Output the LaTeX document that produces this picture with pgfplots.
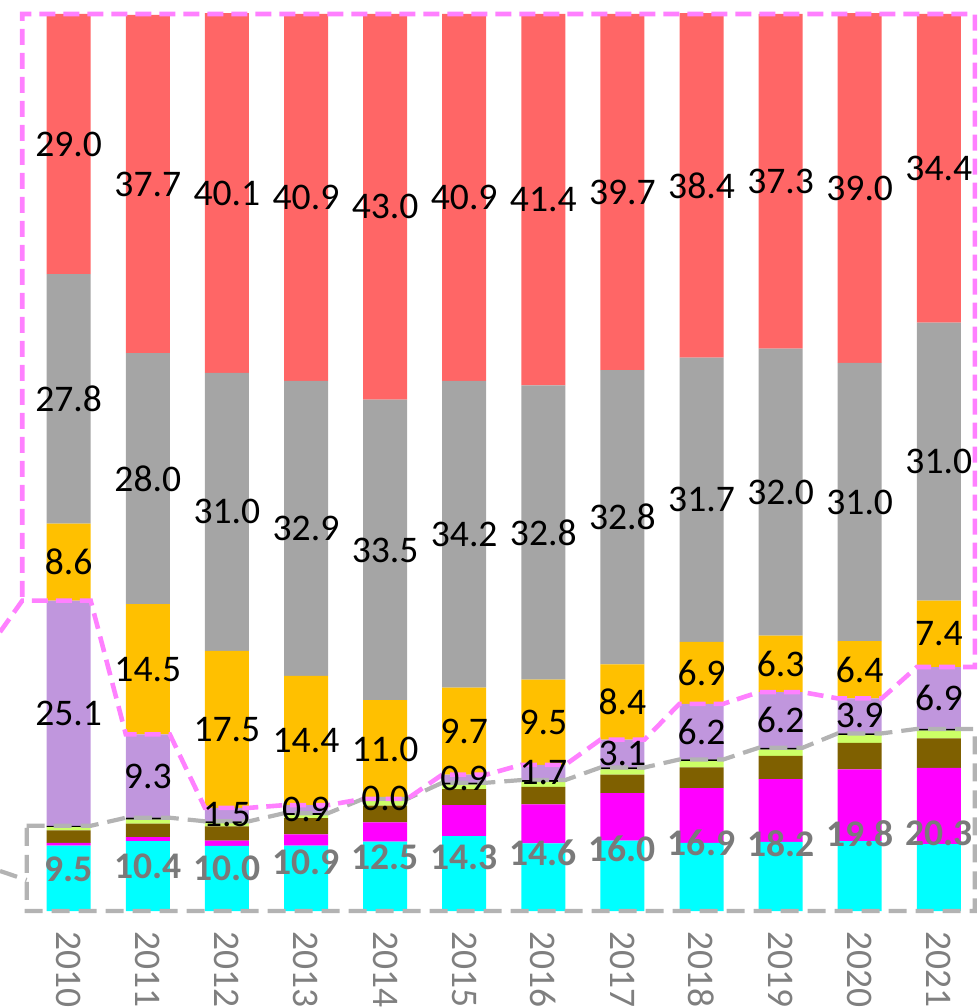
\documentclass[border=0pt]{standalone}
\usepackage{pgfplots}
\pgfplotsset{compat=1.18}
\usepackage{pgfplotstable}
\usepackage{fontspec}
\setmainfont{Carlito}
\definecolor{cRed}{HTML}{FF6666}
\definecolor{cGray}{HTML}{A5A5A5}
\definecolor{cOra}{HTML}{FFC000}
\definecolor{cPur}{HTML}{C096DD}
\definecolor{cGreen}{HTML}{CCFF66}
\definecolor{cBrown}{HTML}{7F6000}
\definecolor{cMag}{HTML}{FF00FF}
\definecolor{cCyan}{HTML}{00FFFF}
\definecolor{cPink}{HTML}{FF80FF}
\definecolor{cBox}{HTML}{B3B3B3}
\definecolor{cLab}{HTML}{7A7A7A}
\definecolor{cTick}{HTML}{7F7F7F}
\newcommand{\labfont}{\fontsize{18.8}{21}\selectfont}

\pgfplotstableread{
x cyan mag brown green black pur ora gra red tot gy
0 7.3 0.3 1.4 0.35 0.15 25.1 8.6 27.8 29.0 9.5 4.64
1 7.8 0.45 1.5 0.45 0.2 9.3 14.5 28.0 37.7 10.4 5.0
2 7.25 0.6 1.6 0.35 0.2 1.5 17.5 31.0 40.1 10.0 4.8
3 7.3 1.25 1.8 0.35 0.2 0.9 14.4 32.9 40.9 10.9 5.4
4 7.74 2.15 1.86 0.55 0.2 0.0 11.0 33.5 43.0 12.5 6.0
5 8.35 3.45 1.8 0.5 0.2 0.9 9.7 34.2 40.9 14.3 6.0
6 7.55 4.35 1.95 0.55 0.2 1.7 9.5 32.8 41.4 14.6 6.5
7 7.85 5.3 2.05 0.6 0.2 3.1 8.4 32.8 39.7 16.0 6.9
8 7.6 6.1 2.3 0.7 0.2 6.2 6.9 31.7 38.4 16.9 7.65
9 7.7 7.0 2.6 0.7 0.2 6.2 6.3 32.0 37.3 18.2 7.55
10 7.8 8.0 2.95 0.85 0.2 3.9 6.4 31.0 39.0 19.8 8.65
11 7.45 8.5 3.3 0.85 0.2 6.9 7.4 31.0 34.4 20.3 8.7
}\datatable

\begin{document}
\begin{tikzpicture}
\begin{axis}[
  x=39.55pt, y=4.485pt,
  xmin=-0.8685, xmax=11.495, ymin=0, ymax=100,
  ybar stacked, bar width=22pt,
  axis line style={draw=none},
  ytick=\empty,
  xtick={0,1,2,3,4,5,6,7,8,9,10,11},
  xticklabels={2010,2011,2012,2013,2014,2015,2016,2017,2018,2019,2020,2021},
  major tick length=0pt,
  xticklabel shift=10pt,
  xticklabel style={rotate=-90, anchor=west, text=cTick, font=\labfont, inner sep=0pt},
  clip=false,
]
\addplot[fill=cCyan, draw=none] table[x=x, y=cyan] {\datatable};
\addplot[fill=cMag, draw=none] table[x=x, y=mag] {\datatable};
\addplot[fill=cBrown, draw=none] table[x=x, y=brown] {\datatable};
\addplot[fill=cGreen, draw=none] table[x=x, y=green] {\datatable};
\addplot[fill=black, draw=none] table[x=x, y=black] {\datatable};
\addplot[fill=cPur, draw=none] table[x=x, y=pur] {\datatable};
\addplot[fill=cOra, draw=none] table[x=x, y=ora] {\datatable};
\addplot[fill=cGray, draw=none] table[x=x, y=gra] {\datatable};
\addplot[fill=cRed, draw=none] table[x=x, y=red] {\datatable};
\end{axis}

\begin{axis}[
  x=39.55pt, y=4.485pt,
  xmin=-0.8685, xmax=11.495, ymin=0, ymax=100,
  hide axis, clip=false,
  nodes near coords align={center},
]
% grey dashed group outline
\addplot[cBox, line width=2.1pt, dash pattern=on 9pt off 4.5pt, mark=none] coordinates {
 (-0.8685,4.46) (-0.531,3.46)};
\addplot[cBox, line width=2.1pt, dash pattern=on 9pt off 4.5pt, mark=none] coordinates {
 (-0.531,9.5) (0.278,9.5) (0.722,10.4) (1.278,10.4) (1.722,10.0) (2.278,10.0)
 (2.722,10.9) (3.278,10.9) (3.722,12.5) (4.278,12.5) (4.722,14.3) (5.278,14.3)
 (5.722,14.6) (6.278,14.6) (6.722,16.0) (7.278,16.0) (7.722,16.9) (8.278,16.9)
 (8.722,18.2) (9.278,18.2) (9.722,19.8) (10.278,19.8) (10.722,20.3) (11.455,20.3)
 (11.455,0) (-0.531,0) (-0.531,9.5)};
% pink dashed group outline
\addplot[cPink, line width=2.3pt, dash pattern=on 8pt off 4pt, mark=none] coordinates {
 (-0.8685,31.1) (-0.587,34.6) (0.278,34.6) (0.722,19.7) (1.278,19.7) (1.722,11.5) (2.278,11.5)
 (2.722,11.8) (3.278,11.8) (3.722,12.5) (4.278,12.5) (4.722,15.2) (5.278,15.2)
 (5.722,16.3) (6.278,16.3) (6.722,19.1) (7.278,19.1) (7.722,23.1) (8.278,23.1)
 (8.722,24.4) (9.278,24.4) (9.722,23.7) (10.278,23.7) (10.722,27.2) (11.455,27.2)
 (11.455,100) (-0.587,100) (-0.587,34.6)};
% labels
\addplot[draw=none, mark=none, nodes near coords, point meta=explicit symbolic,
  every node near coord/.append style={font=\labfont, text=black, anchor=center}]
  table[x=x, y expr=\thisrow{tot}+0.5*\thisrow{pur}, meta=pur] {\datatable};
\addplot[draw=none, mark=none, nodes near coords, point meta=explicit symbolic,
  every node near coord/.append style={font=\labfont, text=black, anchor=center}]
  table[x=x, y expr=\thisrow{tot}+\thisrow{pur}+0.5*\thisrow{ora}, meta=ora] {\datatable};
\addplot[draw=none, mark=none, nodes near coords, point meta=explicit symbolic,
  every node near coord/.append style={font=\labfont, text=black, anchor=center}]
  table[x=x, y expr=\thisrow{tot}+\thisrow{pur}+\thisrow{ora}+0.5*\thisrow{gra}, meta=gra] {\datatable};
\addplot[draw=none, mark=none, nodes near coords, point meta=explicit symbolic,
  every node near coord/.append style={font=\labfont, text=black, anchor=center}]
  table[x=x, y expr=\thisrow{tot}+\thisrow{pur}+\thisrow{ora}+\thisrow{gra}+0.5*\thisrow{red}, meta=red] {\datatable};
\addplot[draw=none, mark=none, nodes near coords, point meta=explicit symbolic,
  every node near coord/.append style={font=\labfont\bfseries, text=cLab, anchor=center}]
  table[x=x, y=gy, meta=tot] {\datatable};
\coordinate (bbSW) at (axis cs:-0.8685,-10.70);
\coordinate (bbNE) at (axis cs:11.495,101.56);
\end{axis}
\pgfresetboundingbox
\path[use as bounding box] (bbSW) rectangle (bbNE);
\end{tikzpicture}
\end{document}
